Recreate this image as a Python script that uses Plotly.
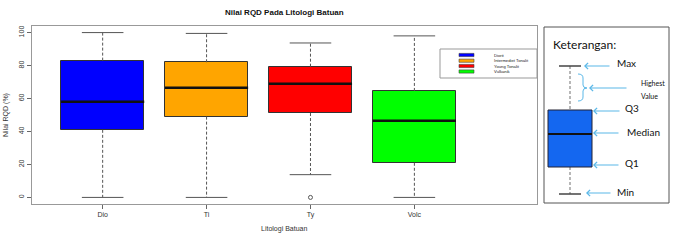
import plotly.graph_objects as go

# ---------------- data ----------------
categories = ["Dio", "Ti", "Ty", "Volc"]
positions = [1, 2, 3, 4]
legend_labels = ["Diorit", "Intermediet Tonalit", "Young Tonalit", "Vulkanik"]
box_colors = ["#0000FF", "#FFA500", "#FF0000", "#00FF00"]
minimum = [0, 0, 13.8, 0]
q1 = [41, 49, 51.2, 21]
median = [58, 66.5, 69, 46.5]
q3 = [83, 82, 79.3, 64.6]
maximum = [100, 99.5, 93.7, 98]
outlier_x = [3]
outlier_y = [0]
y_ticks = [0, 20, 40, 60, 80, 100]

W, H = 675, 246
BOX_W = 0.8
CAP_W = 0.4


def px(x):
    return x / W


def py(y):
    return 1 - y / H


fig = go.Figure()

# whiskers (dashed)
wx, wy = [], []
for p, lo, a, b, hi in zip(positions, minimum, q1, q3, maximum):
    wx += [p, p, None, p, p, None]
    wy += [b, hi, None, a, lo, None]
fig.add_trace(go.Scatter(x=wx, y=wy, mode="lines", line=dict(color="#555", width=1, dash="3px,2px"),
                         hoverinfo="skip", showlegend=False))

# caps
cx, cy = [], []
for p, lo, hi in zip(positions, minimum, maximum):
    cx += [p - CAP_W / 2, p + CAP_W / 2, None, p - CAP_W / 2, p + CAP_W / 2, None]
    cy += [hi, hi, None, lo, lo, None]
fig.add_trace(go.Scatter(x=cx, y=cy, mode="lines", line=dict(color="#555", width=1),
                         hoverinfo="skip", showlegend=False))

# boxes
fig.add_trace(go.Bar(x=positions, y=[b - a for a, b in zip(q1, q3)], base=q1, width=BOX_W,
                     marker=dict(color=box_colors, line=dict(color="#333", width=1)),
                     showlegend=False))

# medians
mx, my = [], []
for p, m in zip(positions, median):
    mx += [p - BOX_W / 2, p + BOX_W / 2, None]
    my += [m, m, None]
fig.add_trace(go.Scatter(x=mx, y=my, mode="lines", line=dict(color="#111", width=2.5),
                         hoverinfo="skip", showlegend=False))

# outliers
fig.add_trace(go.Scatter(x=outlier_x, y=outlier_y, mode="markers",
                         marker=dict(symbol="circle-open", size=4, color="#555", line=dict(width=1)),
                         showlegend=False))

axis_font = dict(family="Liberation Sans, Arial", size=7, color="#333")
fig.update_layout(
    width=W, height=H, margin=dict(l=0, r=0, t=0, b=0),
    paper_bgcolor="white", plot_bgcolor="white", showlegend=False, bargap=0,
    xaxis=dict(domain=[px(32), px(537)], range=[0.32, 5.18], tickvals=positions, ticktext=categories,
               ticks="outside", ticklen=4, tickcolor="#666", showline=True, mirror=True,
               linecolor="#999", linewidth=1, showgrid=False, zeroline=False,
               tickfont=axis_font, automargin=False),
    yaxis=dict(domain=[py(204), py(26)], range=[-4, 104], tickvals=y_ticks, tickangle=-90,
               ticks="outside", ticklen=4, tickcolor="#666", showline=True, mirror=True,
               linecolor="#999", linewidth=1, showgrid=False, zeroline=False,
               tickfont=axis_font, automargin=False),
)

shapes = []
annotations = []


def label(text, x, y, size, family="Liberation Sans, Arial", color="#333", xanchor="center", angle=0):
    annotations.append(dict(x=px(x), y=py(y), xref="paper", yref="paper", text=text, xanchor=xanchor,
                            yanchor="middle", textangle=angle, showarrow=False,
                            font=dict(family=family, size=size, color=color)))


# titles
label("<b>Nilai RQD Pada Litologi Batuan</b>", 284, 12, 8, color="#111")
label("Litologi Batuan", 284, 229, 7)
label("Nilai RQD (%)", 6, 115, 7, angle=-90)

# legend box
shapes.append(dict(type="rect", xref="paper", yref="paper", x0=px(440), x1=px(537), y0=py(49), y1=py(78),
                   line=dict(color="#999", width=1), fillcolor="white"))
leg_rows = [55, 60.7, 66, 71.5]
for lab, col, yy in zip(legend_labels, box_colors, leg_rows):
    shapes.append(dict(type="rect", xref="paper", yref="paper", x0=px(459), x1=px(474), y0=py(yy - 1.6),
                       y1=py(yy + 1.6), line=dict(color="#444", width=0.6), fillcolor=col))
    label(lab, 492, yy, 4.2, color="#222", xanchor="left")

# ---- Keterangan panel ----
shapes.append(dict(type="rect", xref="paper", yref="paper", x0=px(544), x1=px(669), y0=py(203), y1=py(27),
                   line=dict(color="#555", width=1)))
label("Keterangan:", 551, 45, 12, family="Lato, Noto Sans", color="#111", xanchor="left")
# dashed whisker
for y0, y1 in [(66, 110), (167, 194)]:
    shapes.append(dict(type="line", xref="paper", yref="paper", x0=px(570), x1=px(570), y0=py(y0), y1=py(y1),
                       line=dict(color="#888", width=1.2, dash="3px,2px")))
# caps
for yy in [66, 194]:
    shapes.append(dict(type="line", xref="paper", yref="paper", x0=px(559), x1=px(581), y0=py(yy), y1=py(yy),
                       line=dict(color="#444", width=1.5)))
# box
shapes.append(dict(type="rect", xref="paper", yref="paper", x0=px(548), x1=px(592), y0=py(167), y1=py(110),
                   line=dict(color="#223", width=1), fillcolor="#1467F0"))
shapes.append(dict(type="line", xref="paper", yref="paper", x0=px(548), x1=px(592), y0=py(134), y1=py(134),
                   line=dict(color="#111", width=2)))


# brace
def P(x, y):
    return f"{px(x)},{py(y)}"


brace = (f"M{P(578,74)} Q{P(583,74)} {P(583,78)} L{P(583,85)} Q{P(583,88)} {P(587,88)} "
         f"Q{P(583,88)} {P(583,91)} L{P(583,97)} Q{P(583,101)} {P(578,101)}")
shapes.append(dict(type="path", xref="paper", yref="paper", path=brace,
                   line=dict(color="#5BB8E8", width=1)))

arrow_col = "#5BB8E8"
arrows = [(584, 611, 66), (589, 628, 88), (593, 621, 111), (593, 620, 133), (593, 620, 165), (586, 612, 193)]
for tip, tail, yy in arrows:
    annotations.append(dict(x=px(tip), y=py(yy), xref="paper", yref="paper", text="", showarrow=True,
                            ax=tail - tip, ay=0, arrowhead=4, arrowsize=1, arrowwidth=1.2, arrowcolor=arrow_col))

key_labels = [("Max", 615, 63, 10), ("Q3", 623, 108, 10), ("Median", 625, 132, 10), ("Q1", 623, 163, 10),
              ("Min", 615, 192, 10), ("Highest", 639, 83, 7), ("Value", 639, 96, 7)]
for t, x, y, s in key_labels:
    label(t, x, y, s, family="Lato, Noto Sans", color="#111", xanchor="left")

fig.update_layout(shapes=shapes, annotations=annotations)
fig.write_html("out.html")
